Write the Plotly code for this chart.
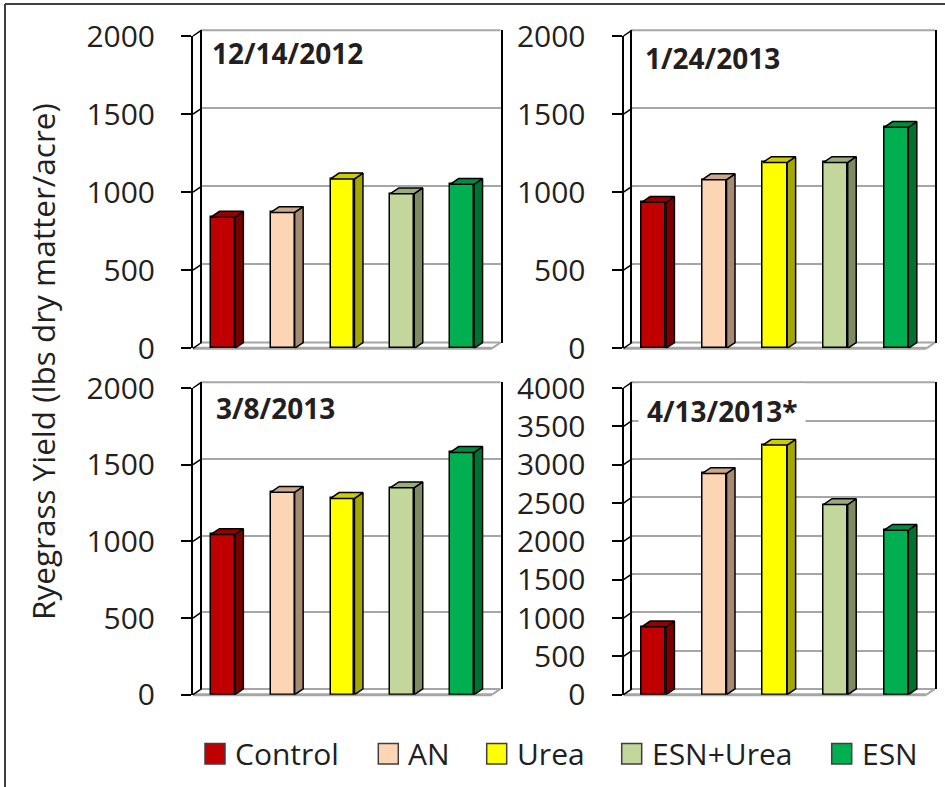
import plotly.graph_objects as go

# ---- data -------------------------------------------------------------
treatments = ["Control", "AN", "Urea", "ESN+Urea", "ESN"]
harvest_dates = ["12/14/2012", "1/24/2013", "3/8/2013", "4/13/2013*"]
yield_dec14 = [840, 870, 1085, 990, 1050]
yield_jan24 = [935, 1080, 1190, 1190, 1415]
yield_mar08 = [1045, 1320, 1280, 1350, 1580]
yield_apr13 = [885, 2885, 3255, 2480, 2145]
axis_max = [2000, 2000, 2000, 4000]
axis_step = [500, 500, 500, 500]

front_colors = ["#C00000", "#FCD5B5", "#FFFF00", "#C3D69B", "#00B050"]
top_colors = ["#960000", "#C9A88C", "#CCCC00", "#9CAB7B", "#008C3E"]
side_colors = ["#7A0000", "#A68A72", "#A6A600", "#7E8A62", "#00722F"]

# ---- geometry (pixels) -----------------------------------------------
W, H = 945, 787
DX, DY = 8.5, 5.8          # depth offset of the pseudo-3D walls and bars
BAR_W = 0.4
TXT = "#231F20"
GRID = "#A6A6A6"
FONT = "Open Sans"


def px(x):
    return x / W


def py(y):
    return 1 - y / H


front_x = [(193, 492), (623.5, 926.5), (193, 492), (623.5, 926.5)]
front_y = [(36, 348.3), (36, 348.3), (388, 694.7), (388, 694.7)]
series = [yield_dec14, yield_jan24, yield_mar08, yield_apr13]

fig = go.Figure()
layout = dict(
    width=W, height=H, autosize=False,
    margin=dict(l=0, r=0, t=0, b=0, pad=0, autoexpand=False),
    paper_bgcolor="white", plot_bgcolor="rgba(0,0,0,0)",
    showlegend=False, bargap=0,
)
shapes = []
annotations = []

for i in range(4):
    fx0, fx1 = front_x[i]
    fyt, fyb = front_y[i]
    bk, fr = i + 1, i + 5
    ymax, step = axis_max[i], axis_step[i]
    ticks = list(range(0, ymax + 1, step))

    # back wall: gridlines and its vertical edges
    layout[f"xaxis{bk}"] = dict(
        domain=[px(fx0 + DX), px(fx1 + DX)], range=[-0.5, 4.5], anchor=f"y{bk}",
        showgrid=False, showline=False, zeroline=False, showticklabels=False, ticks="",
        automargin=False, fixedrange=True)
    layout[f"yaxis{bk}"] = dict(
        domain=[py(fyb - DY), py(fyt - DY)], range=[0, ymax], anchor=f"x{bk}",
        tickvals=ticks, showticklabels=False, ticks="",
        showgrid=True, gridcolor=GRID, gridwidth=2, zeroline=False,
        showline=True, mirror=True, linecolor="black", linewidth=1.5,
        automargin=False, fixedrange=True)
    fig.add_trace(go.Scatter(x=[None], y=[None], xaxis=f"x{bk}", yaxis=f"y{bk}",
                             hoverinfo="skip", showlegend=False))
    # top and bottom edges of the back wall
    for yy in (fyt - DY, fyb - DY):
        shapes.append(dict(type="line", xref="paper", yref="paper", layer="below",
                           x0=px(fx0 + DX), x1=px(fx1 + DX), y0=py(yy), y1=py(yy),
                           line=dict(color=GRID, width=2)))

    # front plane: value axis with ticks and labels
    layout[f"xaxis{fr}"] = dict(
        domain=[px(fx0), px(fx1)], range=[-0.5, 4.5], anchor=f"y{fr}",
        showgrid=False, showline=False, zeroline=False, showticklabels=False, ticks="",
        automargin=False, fixedrange=True)
    layout[f"yaxis{fr}"] = dict(
        domain=[py(fyb), py(fyt)], range=[0, ymax], anchor=f"x{fr}",
        tickvals=ticks, ticks="outside", ticklen=10, tickwidth=2, tickcolor="black",
        showline=True, linecolor="black", linewidth=2, showgrid=False, zeroline=False,
        tickfont=dict(family=FONT, size=30, color=TXT), ticklabelstandoff=20,
        automargin=False, fixedrange=True)

    vals = series[i]
    xs = list(range(len(treatments)))
    ux = DX / ((fx1 - fx0) / 5.0)
    uy = DY / ((fyb - fyt) / ymax)

    fig.add_trace(go.Bar(
        x=xs, y=vals, width=BAR_W, xaxis=f"x{fr}", yaxis=f"y{fr}",
        marker=dict(color=front_colors, line=dict(color="black", width=1.5)),
        hovertext=treatments, hoverinfo="text+y", showlegend=False))

    for k, v in enumerate(vals):
        xl, xr = xs[k] - BAR_W / 2, xs[k] + BAR_W / 2
        # right side face
        fig.add_trace(go.Scatter(
            x=[xr, xr + ux, xr + ux, xr, xr], y=[0, uy, v + uy, v, 0],
            fill="toself", fillcolor=side_colors[k], mode="lines",
            line=dict(color="black", width=1.5),
            xaxis=f"x{fr}", yaxis=f"y{fr}", hoverinfo="skip", showlegend=False))
        # top face
        fig.add_trace(go.Scatter(
            x=[xl, xl + ux, xr + ux, xr, xl], y=[v, v + uy, v + uy, v, v],
            fill="toself", fillcolor=top_colors[k], mode="lines",
            line=dict(color="black", width=1.5),
            xaxis=f"x{fr}", yaxis=f"y{fr}", hoverinfo="skip", showlegend=False))

    # floor front and right edges
    shapes.append(dict(type="line", xref="paper", yref="paper", layer="below",
                       x0=px(fx0), x1=px(fx1), y0=py(fyb), y1=py(fyb),
                       line=dict(color=GRID, width=3)))
    shapes.append(dict(type="line", xref="paper", yref="paper", layer="below",
                       x0=px(fx1), x1=px(fx1 + DX), y0=py(fyb), y1=py(fyb - DY),
                       line=dict(color=GRID, width=2)))
    # side wall gridlines joining front ticks to the back wall
    for t in ticks:
        yy = fyb - (fyb - fyt) * t / ymax
        shapes.append(dict(type="line", xref="paper", yref="paper",
                           x0=px(fx0), x1=px(fx0 + DX), y0=py(yy), y1=py(yy - DY),
                           line=dict(color="black", width=1.5)))

# panel titles
title_pos = [(211, 52.5, 0), (644, 58, 0), (215, 408, 0), (638, 411, 8)]
for i, (tx, ty, pad) in enumerate(title_pos):
    annotations.append(dict(
        text=f"<b>{harvest_dates[i]}</b>", xref="paper", yref="paper",
        x=px(tx), y=py(ty), xanchor="left", yanchor="middle", showarrow=False,
        font=dict(family=FONT, size=28, color=TXT),
        bgcolor="white" if pad else "rgba(0,0,0,0)", borderpad=pad))

# shared value-axis title
annotations.append(dict(
    text="Ryegrass Yield (lbs dry matter/acre)", xref="paper", yref="paper",
    x=px(42), y=py(362), xanchor="center", yanchor="middle", textangle=-90,
    showarrow=False, font=dict(family=FONT, size=31.5, color=TXT)))

# legend
legend_x = [205, 378.3, 486.7, 621.7, 831.7]
for k, name in enumerate(treatments):
    x0 = legend_x[k]
    shapes.append(dict(type="rect", xref="paper", yref="paper",
                       x0=px(x0), x1=px(x0 + 20), y0=py(764), y1=py(743.5),
                       fillcolor=front_colors[k], line=dict(color="#3F3F3F", width=1.5)))
    annotations.append(dict(
        text=name, xref="paper", yref="paper", x=px(x0 + 28), y=py(753.5),
        xanchor="left", yanchor="middle", showarrow=False,
        font=dict(family=FONT, size=30, color=TXT)))

# chart frame
shapes.append(dict(type="line", xref="paper", yref="paper",
                   x0=px(5), x1=px(5), y0=py(4), y1=0,
                   line=dict(color="#404040", width=2)))
shapes.append(dict(type="line", xref="paper", yref="paper",
                   x0=px(5), x1=1, y0=py(4), y1=py(4),
                   line=dict(color="#404040", width=2)))

layout["shapes"] = shapes
layout["annotations"] = annotations
fig.update_layout(**layout)
fig.write_html("out.html")
